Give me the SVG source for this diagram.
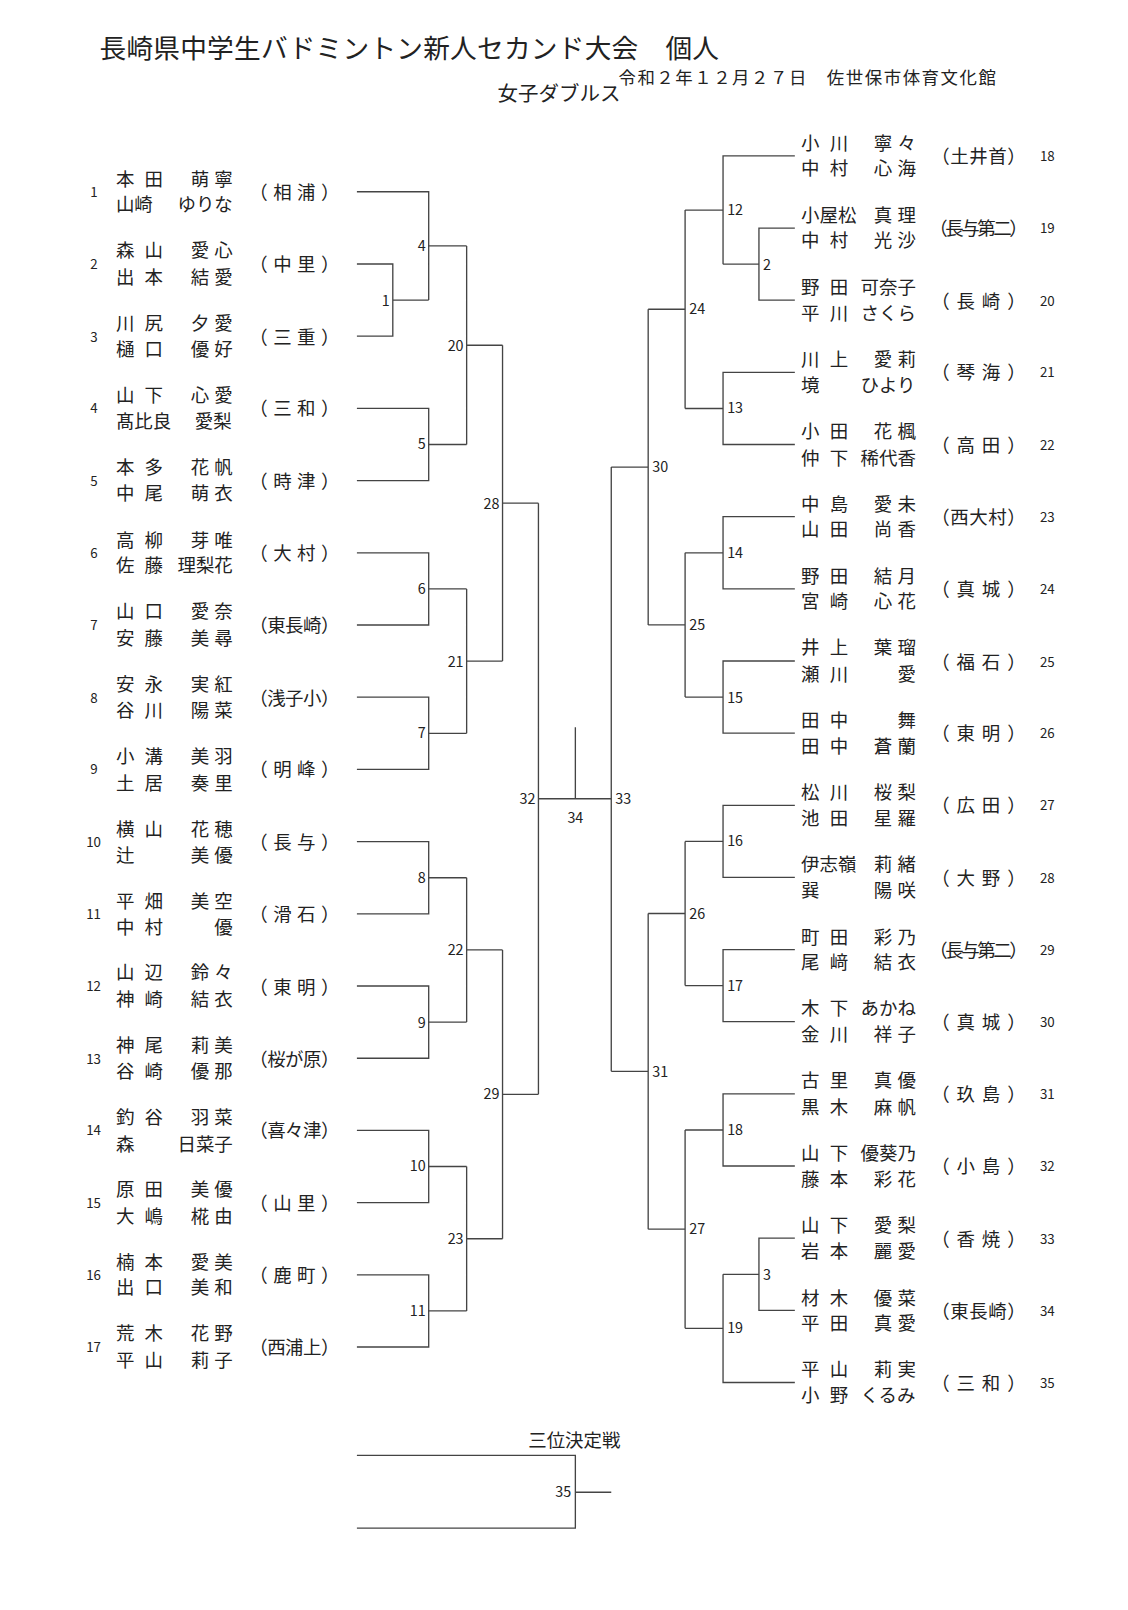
<svg xmlns="http://www.w3.org/2000/svg" width="1128" height="1610" viewBox="0 0 1128 1610">
<style>
text{font-family:"Noto Sans CJK JP","Noto Sans",sans-serif;fill:#222}
.n{font-size:13px}
.m{font-size:18px}
.l{font-size:14px}
.c path{fill:none;stroke:#444;stroke-width:1.3}
</style>
<rect width="1128" height="1610" fill="#fff"/>
<g transform="scale(1.0256)">
<g id="title">
<text x="97" y="57" font-size="26" textLength="604">長崎県中学生バドミントン新人セカンド大会　個人</text>
<text x="603" y="82" font-size="17" textLength="368">令和２年１２月２７日　佐世保市体育文化館</text>
<text x="485" y="98" font-size="20">女子ダブルス</text>
</g>
<g class="c" id="connectors">
<path d="M348 187H418V292.6M348 257.4H383V327.8H348M383 292.6H418M418 239.8H455M348 398.2H418V468.6H348M418 433.4H455M455 239.8V433.4M455 336.6H490M348 539H418V609.4H348M418 574.2H455M348 679.8H418V750.2H348M418 715H455M455 574.2V715M455 644.6H490M490 336.6V644.6M490 490.6H525M348 820.6H418V891H348M418 855.8H455M348 961.4H418V1031.8H348M418 996.6H455M455 855.8V996.6M455 926.2H490M348 1102.2H418V1172.6H348M418 1137.4H455M348 1243H418V1313.4H348M418 1278.2H455M455 1137.4V1278.2M455 1207.8H490M490 926.2V1207.8M490 1067H525M525 490.6V1067M525 778.8H596M561 709V778.8"/>
<path d="M775 152H705V257.6M775 222.4H740V292.7H775M740 257.6H705M705 204.8H668M775 363.1H705V433.4H775M705 398.3H668M668 204.8V398.3M668 301.5H632M775 503.8H705V574.1H775M705 539H668M775 644.5H705V714.8H775M705 679.7H668M668 539V679.7M668 609.3H632M632 301.5V609.3M632 455.4H596M775 785.2H705V855.5H775M705 820.4H668M775 925.9H705V996.2H775M705 961H668M668 820.4V961M668 890.7H632M775 1066.6H705V1136.9H775M705 1101.8H668M775 1207.3H740V1277.6H775M740 1242.5H705M775 1348H705V1242.5M705 1295.2H668M668 1101.8V1295.2M668 1198.5H632M632 890.7V1198.5M632 1044.6H596M596 455.4V1044.6"/>
<path d="M348 1419H561V1490H348M561 1455H596"/>
</g>
<g id="match-labels" class="l">
<g text-anchor="end">
<text x="415" y="245">4</text><text x="380" y="298">1</text><text x="415" y="438">5</text><text x="452" y="342">20</text>
<text x="415" y="579">6</text><text x="415" y="720">7</text><text x="452" y="650">21</text><text x="487" y="496">28</text>
<text x="415" y="861">8</text><text x="415" y="1002">9</text><text x="452" y="931">22</text><text x="415" y="1142">10</text>
<text x="415" y="1283">11</text><text x="452" y="1213">23</text><text x="487" y="1072">29</text><text x="522" y="784">32</text>
<text x="557" y="1460">35</text>
</g>
<text x="561" y="802" text-anchor="middle">34</text>
<text x="600" y="784">33</text>
<text x="709" y="210">12</text><text x="744" y="263">2</text><text x="709" y="403">13</text><text x="672" y="306">24</text>
<text x="709" y="544">14</text><text x="709" y="685">15</text><text x="672" y="614">25</text><text x="636" y="460">30</text>
<text x="709" y="825">16</text><text x="709" y="966">17</text><text x="672" y="896">26</text><text x="709" y="1107">18</text>
<text x="744" y="1248">3</text><text x="709" y="1300">19</text><text x="672" y="1203">27</text><text x="636" y="1050">31</text>
<text x="560" y="1411" font-size="18" text-anchor="middle">三位決定戦</text>
</g>
<g id="p1"><text class="n" x="88" y="192">1</text><text class="m" x="113" y="181" textLength="46">本田</text><text class="m" x="186" y="181" textLength="41">萌寧</text><text class="m" x="113" y="206">山崎</text><text class="m" x="173" y="206">ゆりな</text><text class="m" x="243" y="194" textLength="88">（相浦）</text></g>
<g id="p2"><text class="n" x="88" y="262">2</text><text class="m" x="113" y="251" textLength="46">森山</text><text class="m" x="186" y="251" textLength="41">愛心</text><text class="m" x="113" y="277" textLength="46">出本</text><text class="m" x="186" y="277" textLength="41">結愛</text><text class="m" x="243" y="264" textLength="88">（中里）</text></g>
<g id="p3"><text class="n" x="88" y="333">3</text><text class="m" x="113" y="322" textLength="46">川尻</text><text class="m" x="186" y="322" textLength="41">夕愛</text><text class="m" x="113" y="347" textLength="46">樋口</text><text class="m" x="186" y="347" textLength="41">優好</text><text class="m" x="243" y="335" textLength="88">（三重）</text></g>
<g id="p4"><text class="n" x="88" y="403">4</text><text class="m" x="113" y="392" textLength="46">山下</text><text class="m" x="186" y="392" textLength="41">心愛</text><text class="m" x="113" y="417">髙比良</text><text class="m" x="190" y="417">愛梨</text><text class="m" x="243" y="405" textLength="88">（三和）</text></g>
<g id="p5"><text class="n" x="88" y="474">5</text><text class="m" x="113" y="462" textLength="46">本多</text><text class="m" x="186" y="462" textLength="41">花帆</text><text class="m" x="113" y="488" textLength="46">中尾</text><text class="m" x="186" y="488" textLength="41">萌衣</text><text class="m" x="243" y="476" textLength="88">（時津）</text></g>
<g id="p6"><text class="n" x="88" y="544">6</text><text class="m" x="113" y="533" textLength="46">高柳</text><text class="m" x="186" y="533" textLength="41">芽唯</text><text class="m" x="113" y="558" textLength="46">佐藤</text><text class="m" x="173" y="558">理梨花</text><text class="m" x="243" y="546" textLength="88">（大村）</text></g>
<g id="p7"><text class="n" x="88" y="614">7</text><text class="m" x="113" y="603" textLength="46">山口</text><text class="m" x="186" y="603" textLength="41">愛奈</text><text class="m" x="113" y="629" textLength="46">安藤</text><text class="m" x="186" y="629" textLength="41">美尋</text><text class="m" x="243" y="616" textLength="88">（東長崎）</text></g>
<g id="p8"><text class="n" x="88" y="685">8</text><text class="m" x="113" y="674" textLength="46">安永</text><text class="m" x="186" y="674" textLength="41">実紅</text><text class="m" x="113" y="699" textLength="46">谷川</text><text class="m" x="186" y="699" textLength="41">陽菜</text><text class="m" x="243" y="687" textLength="88">（浅子小）</text></g>
<g id="p9"><text class="n" x="88" y="755">9</text><text class="m" x="113" y="744" textLength="46">小溝</text><text class="m" x="186" y="744" textLength="41">美羽</text><text class="m" x="113" y="770" textLength="46">土居</text><text class="m" x="186" y="770" textLength="41">奏里</text><text class="m" x="243" y="757" textLength="88">（明峰）</text></g>
<g id="p10"><text class="n" x="84" y="826">10</text><text class="m" x="113" y="815" textLength="46">横山</text><text class="m" x="186" y="815" textLength="41">花穂</text><text class="m" x="113" y="840">辻</text><text class="m" x="186" y="840" textLength="41">美優</text><text class="m" x="243" y="828" textLength="88">（長与）</text></g>
<g id="p11"><text class="n" x="84" y="896">11</text><text class="m" x="113" y="885" textLength="46">平畑</text><text class="m" x="186" y="885" textLength="41">美空</text><text class="m" x="113" y="911" textLength="46">中村</text><text class="m" x="209" y="911">優</text><text class="m" x="243" y="898" textLength="88">（滑石）</text></g>
<g id="p12"><text class="n" x="84" y="966">12</text><text class="m" x="113" y="955" textLength="46">山辺</text><text class="m" x="186" y="955" textLength="41">鈴々</text><text class="m" x="113" y="981" textLength="46">神崎</text><text class="m" x="186" y="981" textLength="41">結衣</text><text class="m" x="243" y="969" textLength="88">（東明）</text></g>
<g id="p13"><text class="n" x="84" y="1037">13</text><text class="m" x="113" y="1026" textLength="46">神尾</text><text class="m" x="186" y="1026" textLength="41">莉美</text><text class="m" x="113" y="1051" textLength="46">谷崎</text><text class="m" x="186" y="1051" textLength="41">優那</text><text class="m" x="243" y="1039" textLength="88">（桜が原）</text></g>
<g id="p14"><text class="n" x="84" y="1107">14</text><text class="m" x="113" y="1096" textLength="46">釣谷</text><text class="m" x="186" y="1096" textLength="41">羽菜</text><text class="m" x="113" y="1122">森</text><text class="m" x="173" y="1122">日菜子</text><text class="m" x="243" y="1109" textLength="88">（喜々津）</text></g>
<g id="p15"><text class="n" x="84" y="1178">15</text><text class="m" x="113" y="1166" textLength="46">原田</text><text class="m" x="186" y="1166" textLength="41">美優</text><text class="m" x="113" y="1192" textLength="46">大嶋</text><text class="m" x="186" y="1192" textLength="41">椛由</text><text class="m" x="243" y="1180" textLength="88">（山里）</text></g>
<g id="p16"><text class="n" x="84" y="1248">16</text><text class="m" x="113" y="1237" textLength="46">楠本</text><text class="m" x="186" y="1237" textLength="41">愛美</text><text class="m" x="113" y="1262" textLength="46">出口</text><text class="m" x="186" y="1262" textLength="41">美和</text><text class="m" x="243" y="1250" textLength="88">（鹿町）</text></g>
<g id="p17"><text class="n" x="84" y="1318">17</text><text class="m" x="113" y="1307" textLength="46">荒木</text><text class="m" x="186" y="1307" textLength="41">花野</text><text class="m" x="113" y="1333" textLength="46">平山</text><text class="m" x="186" y="1333" textLength="41">莉子</text><text class="m" x="243" y="1320" textLength="88">（西浦上）</text></g>
<g id="p18"><text class="m" x="781" y="146" textLength="46">小川</text><text class="m" x="852" y="146" textLength="41">寧々</text><text class="m" x="781" y="171" textLength="46">中村</text><text class="m" x="852" y="171" textLength="41">心海</text><text class="m" x="908" y="159" textLength="92">（土井首）</text><text class="n" x="1014" y="157">18</text></g>
<g id="p19"><text class="m" x="781" y="216">小屋松</text><text class="m" x="852" y="216" textLength="41">真理</text><text class="m" x="781" y="241" textLength="46">中村</text><text class="m" x="852" y="241" textLength="41">光沙</text><text class="m" x="906" y="229" textLength="96">（長与第二）</text><text class="n" x="1014" y="227">19</text></g>
<g id="p20"><text class="m" x="781" y="287" textLength="46">野田</text><text class="m" x="839" y="287">可奈子</text><text class="m" x="781" y="312" textLength="46">平川</text><text class="m" x="839" y="312">さくら</text><text class="m" x="908" y="300" textLength="92">（長崎）</text><text class="n" x="1014" y="298">20</text></g>
<g id="p21"><text class="m" x="781" y="357" textLength="46">川上</text><text class="m" x="852" y="357" textLength="41">愛莉</text><text class="m" x="781" y="382">境</text><text class="m" x="839" y="382">ひより</text><text class="m" x="908" y="370" textLength="92">（琴海）</text><text class="n" x="1014" y="368">21</text></g>
<g id="p22"><text class="m" x="781" y="427" textLength="46">小田</text><text class="m" x="852" y="427" textLength="41">花楓</text><text class="m" x="781" y="453" textLength="46">仲下</text><text class="m" x="839" y="453">稀代香</text><text class="m" x="908" y="441" textLength="92">（高田）</text><text class="n" x="1014" y="439">22</text></g>
<g id="p23"><text class="m" x="781" y="498" textLength="46">中島</text><text class="m" x="852" y="498" textLength="41">愛未</text><text class="m" x="781" y="523" textLength="46">山田</text><text class="m" x="852" y="523" textLength="41">尚香</text><text class="m" x="908" y="511" textLength="92">（西大村）</text><text class="n" x="1014" y="509">23</text></g>
<g id="p24"><text class="m" x="781" y="568" textLength="46">野田</text><text class="m" x="852" y="568" textLength="41">結月</text><text class="m" x="781" y="593" textLength="46">宮崎</text><text class="m" x="852" y="593" textLength="41">心花</text><text class="m" x="908" y="581" textLength="92">（真城）</text><text class="n" x="1014" y="579">24</text></g>
<g id="p25"><text class="m" x="781" y="638" textLength="46">井上</text><text class="m" x="852" y="638" textLength="41">葉瑠</text><text class="m" x="781" y="664" textLength="46">瀬川</text><text class="m" x="875" y="664">愛</text><text class="m" x="908" y="652" textLength="92">（福石）</text><text class="n" x="1014" y="650">25</text></g>
<g id="p26"><text class="m" x="781" y="709" textLength="46">田中</text><text class="m" x="875" y="709">舞</text><text class="m" x="781" y="734" textLength="46">田中</text><text class="m" x="852" y="734" textLength="41">蒼蘭</text><text class="m" x="908" y="722" textLength="92">（東明）</text><text class="n" x="1014" y="720">26</text></g>
<g id="p27"><text class="m" x="781" y="779" textLength="46">松川</text><text class="m" x="852" y="779" textLength="41">桜梨</text><text class="m" x="781" y="804" textLength="46">池田</text><text class="m" x="852" y="804" textLength="41">星羅</text><text class="m" x="908" y="792" textLength="92">（広田）</text><text class="n" x="1014" y="790">27</text></g>
<g id="p28"><text class="m" x="781" y="849">伊志嶺</text><text class="m" x="852" y="849" textLength="41">莉緒</text><text class="m" x="781" y="875">巽</text><text class="m" x="852" y="875" textLength="41">陽咲</text><text class="m" x="908" y="863" textLength="92">（大野）</text><text class="n" x="1014" y="861">28</text></g>
<g id="p29"><text class="m" x="781" y="920" textLength="46">町田</text><text class="m" x="852" y="920" textLength="41">彩乃</text><text class="m" x="781" y="945" textLength="46">尾﨑</text><text class="m" x="852" y="945" textLength="41">結衣</text><text class="m" x="906" y="933" textLength="96">（長与第二）</text><text class="n" x="1014" y="931">29</text></g>
<g id="p30"><text class="m" x="781" y="990" textLength="46">木下</text><text class="m" x="839" y="990">あかね</text><text class="m" x="781" y="1015" textLength="46">金川</text><text class="m" x="852" y="1015" textLength="41">祥子</text><text class="m" x="908" y="1003" textLength="92">（真城）</text><text class="n" x="1014" y="1001">30</text></g>
<g id="p31"><text class="m" x="781" y="1060" textLength="46">古里</text><text class="m" x="852" y="1060" textLength="41">真優</text><text class="m" x="781" y="1086" textLength="46">黒木</text><text class="m" x="852" y="1086" textLength="41">麻帆</text><text class="m" x="908" y="1074" textLength="92">（玖島）</text><text class="n" x="1014" y="1072">31</text></g>
<g id="p32"><text class="m" x="781" y="1131" textLength="46">山下</text><text class="m" x="839" y="1131">優葵乃</text><text class="m" x="781" y="1156" textLength="46">藤本</text><text class="m" x="852" y="1156" textLength="41">彩花</text><text class="m" x="908" y="1144" textLength="92">（小島）</text><text class="n" x="1014" y="1142">32</text></g>
<g id="p33"><text class="m" x="781" y="1201" textLength="46">山下</text><text class="m" x="852" y="1201" textLength="41">愛梨</text><text class="m" x="781" y="1227" textLength="46">岩本</text><text class="m" x="852" y="1227" textLength="41">麗愛</text><text class="m" x="908" y="1215" textLength="92">（香焼）</text><text class="n" x="1014" y="1213">33</text></g>
<g id="p34"><text class="m" x="781" y="1272" textLength="46">材木</text><text class="m" x="852" y="1272" textLength="41">優菜</text><text class="m" x="781" y="1297" textLength="46">平田</text><text class="m" x="852" y="1297" textLength="41">真愛</text><text class="m" x="908" y="1285" textLength="92">（東長崎）</text><text class="n" x="1014" y="1283">34</text></g>
<g id="p35"><text class="m" x="781" y="1342" textLength="46">平山</text><text class="m" x="852" y="1342" textLength="41">莉実</text><text class="m" x="781" y="1367" textLength="46">小野</text><text class="m" x="839" y="1367">くるみ</text><text class="m" x="908" y="1355" textLength="92">（三和）</text><text class="n" x="1014" y="1353">35</text></g>
</g>
</svg>
